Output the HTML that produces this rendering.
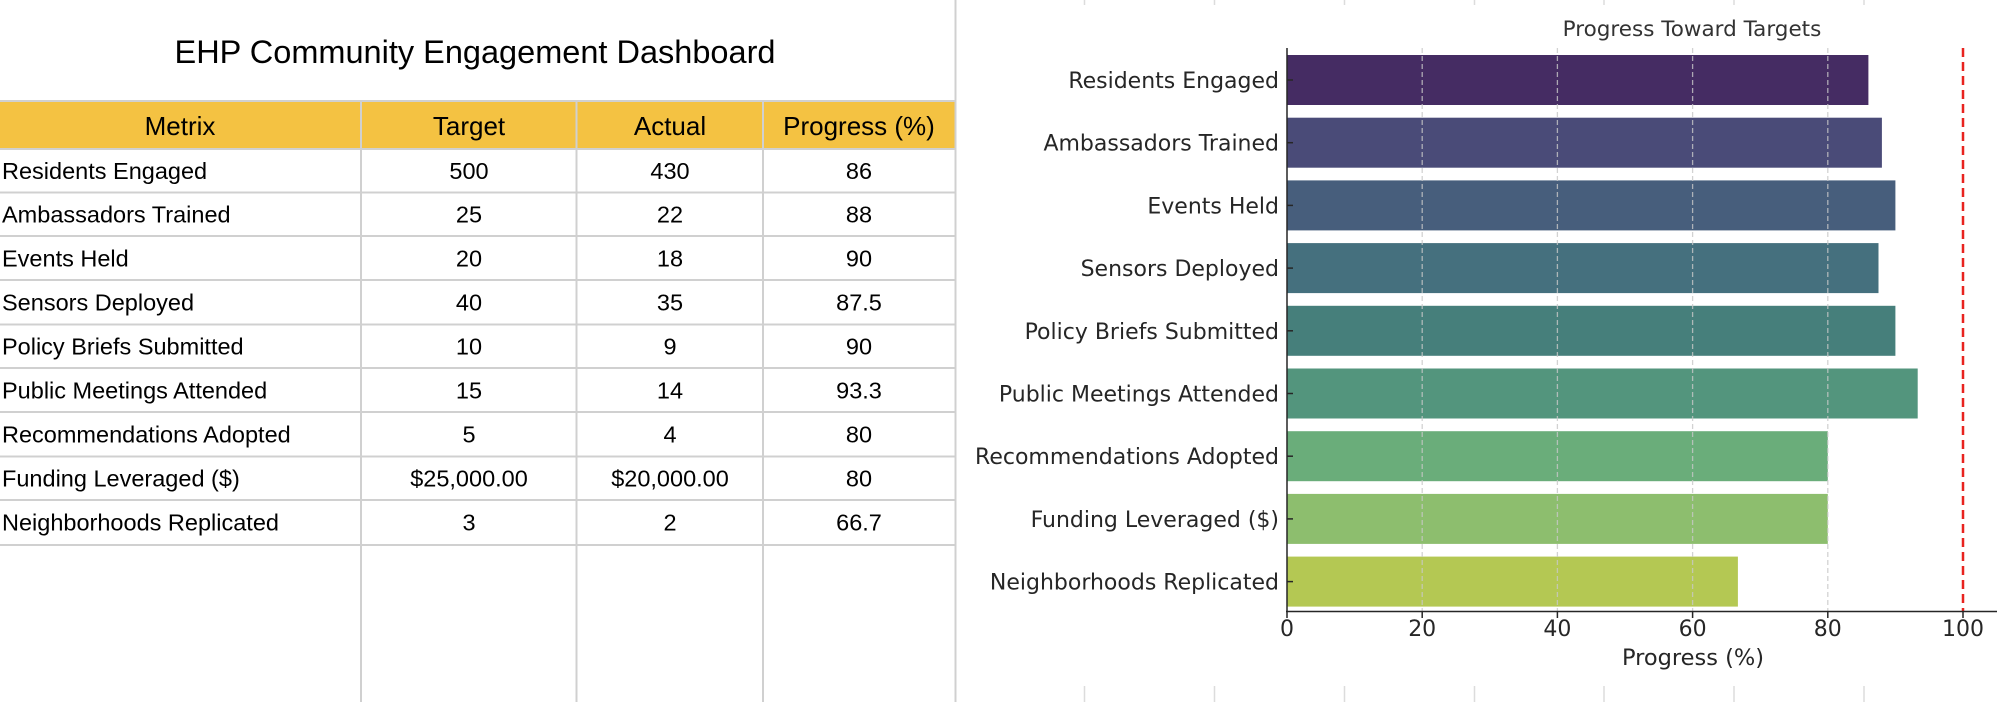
<!DOCTYPE html>
<html><head><meta charset="utf-8"><style>
html,body{margin:0;padding:0;background:#fff;}
body{width:2004px;height:702px;position:relative;overflow:hidden;font-family:"Liberation Sans",Arial,sans-serif;}
svg{position:absolute;left:0;top:0;}
</style></head><body>
<svg width="2004" height="702" viewBox="0 0 2004 702" xmlns="http://www.w3.org/2000/svg">
<text x="475" y="63" font-size="32.5" text-anchor="middle" fill="#000" font-family="Liberation Sans, sans-serif">EHP Community Engagement Dashboard</text>
<rect x="0" y="102" width="955" height="47" fill="#F4C242"/>
<g stroke="#d0d0d0" stroke-width="2">
<line x1="0" y1="101" x2="955" y2="101"/>
<line x1="0" y1="149" x2="955" y2="149"/>
<line x1="0" y1="192.5" x2="955" y2="192.5"/>
<line x1="0" y1="236" x2="955" y2="236"/>
<line x1="0" y1="280" x2="955" y2="280"/>
<line x1="0" y1="324.5" x2="955" y2="324.5"/>
<line x1="0" y1="368" x2="955" y2="368"/>
<line x1="0" y1="412" x2="955" y2="412"/>
<line x1="0" y1="456.5" x2="955" y2="456.5"/>
<line x1="0" y1="500" x2="955" y2="500"/>
<line x1="0" y1="545" x2="955" y2="545"/>
<line x1="361" y1="101" x2="361" y2="702"/>
<line x1="576.5" y1="101" x2="576.5" y2="702"/>
<line x1="763" y1="101" x2="763" y2="702"/>
<line x1="955.5" y1="0" x2="955.5" y2="702"/>
</g>
<g font-size="26" text-anchor="middle" fill="#000" font-family="Liberation Sans, sans-serif">
<text x="180" y="135">Metrix</text><text x="469" y="135">Target</text><text x="670" y="135">Actual</text><text x="859" y="135">Progress (%)</text>
</g>
<g font-size="23.5" fill="#000" font-family="Liberation Sans, sans-serif">
<g text-anchor="start">
<text x="2" y="179">Residents Engaged</text>
<text x="2" y="222.5">Ambassadors Trained</text>
<text x="2" y="266.5">Events Held</text>
<text x="2" y="310.5">Sensors Deployed</text>
<text x="2" y="354.5">Policy Briefs Submitted</text>
<text x="2" y="398.5">Public Meetings Attended</text>
<text x="2" y="442.5">Recommendations Adopted</text>
<text x="2" y="486.5">Funding  Leveraged ($)</text>
<text x="2" y="530.5">Neighborhoods Replicated</text>
</g>
<g text-anchor="middle">
<text x="469" y="179">500</text><text x="670" y="179">430</text><text x="859" y="179">86</text>
<text x="469" y="222.5">25</text><text x="670" y="222.5">22</text><text x="859" y="222.5">88</text>
<text x="469" y="266.5">20</text><text x="670" y="266.5">18</text><text x="859" y="266.5">90</text>
<text x="469" y="310.5">40</text><text x="670" y="310.5">35</text><text x="859" y="310.5">87.5</text>
<text x="469" y="354.5">10</text><text x="670" y="354.5">9</text><text x="859" y="354.5">90</text>
<text x="469" y="398.5">15</text><text x="670" y="398.5">14</text><text x="859" y="398.5">93.3</text>
<text x="469" y="442.5">5</text><text x="670" y="442.5">4</text><text x="859" y="442.5">80</text>
<text x="469" y="486.5">$25,000.00</text><text x="670" y="486.5">$20,000.00</text><text x="859" y="486.5">80</text>
<text x="469" y="530.5">3</text><text x="670" y="530.5">2</text><text x="859" y="530.5">66.7</text>
</g></g>
<g stroke="#dcdcdc" stroke-width="1.5">
<line x1="1084.5" y1="0" x2="1084.5" y2="5"/><line x1="1214.5" y1="0" x2="1214.5" y2="5"/><line x1="1344.5" y1="0" x2="1344.5" y2="5"/><line x1="1474.5" y1="0" x2="1474.5" y2="5"/><line x1="1604" y1="0" x2="1604" y2="5"/><line x1="1734" y1="0" x2="1734" y2="5"/><line x1="1864" y1="0" x2="1864" y2="5"/>
<line x1="1084.5" y1="686" x2="1084.5" y2="702"/><line x1="1214.5" y1="686" x2="1214.5" y2="702"/><line x1="1344.5" y1="686" x2="1344.5" y2="702"/><line x1="1474.5" y1="686" x2="1474.5" y2="702"/><line x1="1604" y1="686" x2="1604" y2="702"/><line x1="1734" y1="686" x2="1734" y2="702"/><line x1="1864" y1="686" x2="1864" y2="702"/>
</g>
<text x="1692" y="36" font-size="21.5" text-anchor="middle" fill="#333" font-family="DejaVu Sans, sans-serif">Progress Toward Targets</text>
<g>
<rect x="1287" y="55" width="581.4" height="50" fill="#452C63"/>
<rect x="1287" y="117.7" width="594.9" height="50" fill="#4A4B78"/>
<rect x="1287" y="180.4" width="608.4" height="50" fill="#475E7C"/>
<rect x="1287" y="243.1" width="591.5" height="50" fill="#45707E"/>
<rect x="1287" y="305.8" width="608.4" height="50" fill="#467F7B"/>
<rect x="1287" y="368.5" width="630.7" height="50" fill="#53957D"/>
<rect x="1287" y="431.2" width="540.8" height="50" fill="#6AAD7A"/>
<rect x="1287" y="493.9" width="540.8" height="50" fill="#8DBE6E"/>
<rect x="1287" y="556.6" width="450.9" height="50" fill="#B4C853"/>
</g>
<g stroke="#c8c8c8" stroke-width="1.3" stroke-dasharray="5,3" opacity="0.8">
<line x1="1422.2" y1="48" x2="1422.2" y2="611"/><line x1="1557.4" y1="48" x2="1557.4" y2="611"/><line x1="1692.6" y1="48" x2="1692.6" y2="611"/><line x1="1827.8" y1="48" x2="1827.8" y2="611"/>
</g>
<line x1="1963" y1="48" x2="1963" y2="611" stroke="#e8231f" stroke-width="2.5" stroke-dasharray="9,5"/>
<g stroke="#262626" stroke-width="1.5">
<line x1="1287" y1="48" x2="1287" y2="612"/>
<line x1="1286" y1="611.5" x2="1997" y2="611.5"/>
<line x1="1287" y1="612" x2="1287" y2="618"/><line x1="1422.2" y1="612" x2="1422.2" y2="618"/><line x1="1557.4" y1="612" x2="1557.4" y2="618"/><line x1="1692.6" y1="612" x2="1692.6" y2="618"/><line x1="1827.8" y1="612" x2="1827.8" y2="618"/><line x1="1963" y1="612" x2="1963" y2="618"/>
<line x1="1287" y1="80" x2="1293" y2="80"/><line x1="1287" y1="142.7" x2="1293" y2="142.7"/><line x1="1287" y1="205.4" x2="1293" y2="205.4"/><line x1="1287" y1="268.1" x2="1293" y2="268.1"/><line x1="1287" y1="330.8" x2="1293" y2="330.8"/><line x1="1287" y1="393.5" x2="1293" y2="393.5"/><line x1="1287" y1="456.2" x2="1293" y2="456.2"/><line x1="1287" y1="518.9" x2="1293" y2="518.9"/><line x1="1287" y1="581.6" x2="1293" y2="581.6"/>
</g>
<g font-size="22" fill="#262626" text-anchor="end" font-family="DejaVu Sans, sans-serif">
<text x="1279" y="88">Residents Engaged</text>
<text x="1279" y="150.7">Ambassadors Trained</text>
<text x="1279" y="213.4">Events Held</text>
<text x="1279" y="276.1">Sensors Deployed</text>
<text x="1279" y="338.8">Policy Briefs Submitted</text>
<text x="1279" y="401.5">Public Meetings Attended</text>
<text x="1279" y="464.2">Recommendations Adopted</text>
<text x="1279" y="526.9">Funding Leveraged ($)</text>
<text x="1279" y="589.6">Neighborhoods Replicated</text>
</g>
<g font-size="22" fill="#262626" text-anchor="middle" font-family="DejaVu Sans, sans-serif">
<text x="1287" y="636">0</text><text x="1422.2" y="636">20</text><text x="1557.4" y="636">40</text><text x="1692.6" y="636">60</text><text x="1827.8" y="636">80</text><text x="1963" y="636">100</text>
<text x="1693" y="665" font-size="22.5">Progress (%)</text>
</g>
</svg>
</body></html>
